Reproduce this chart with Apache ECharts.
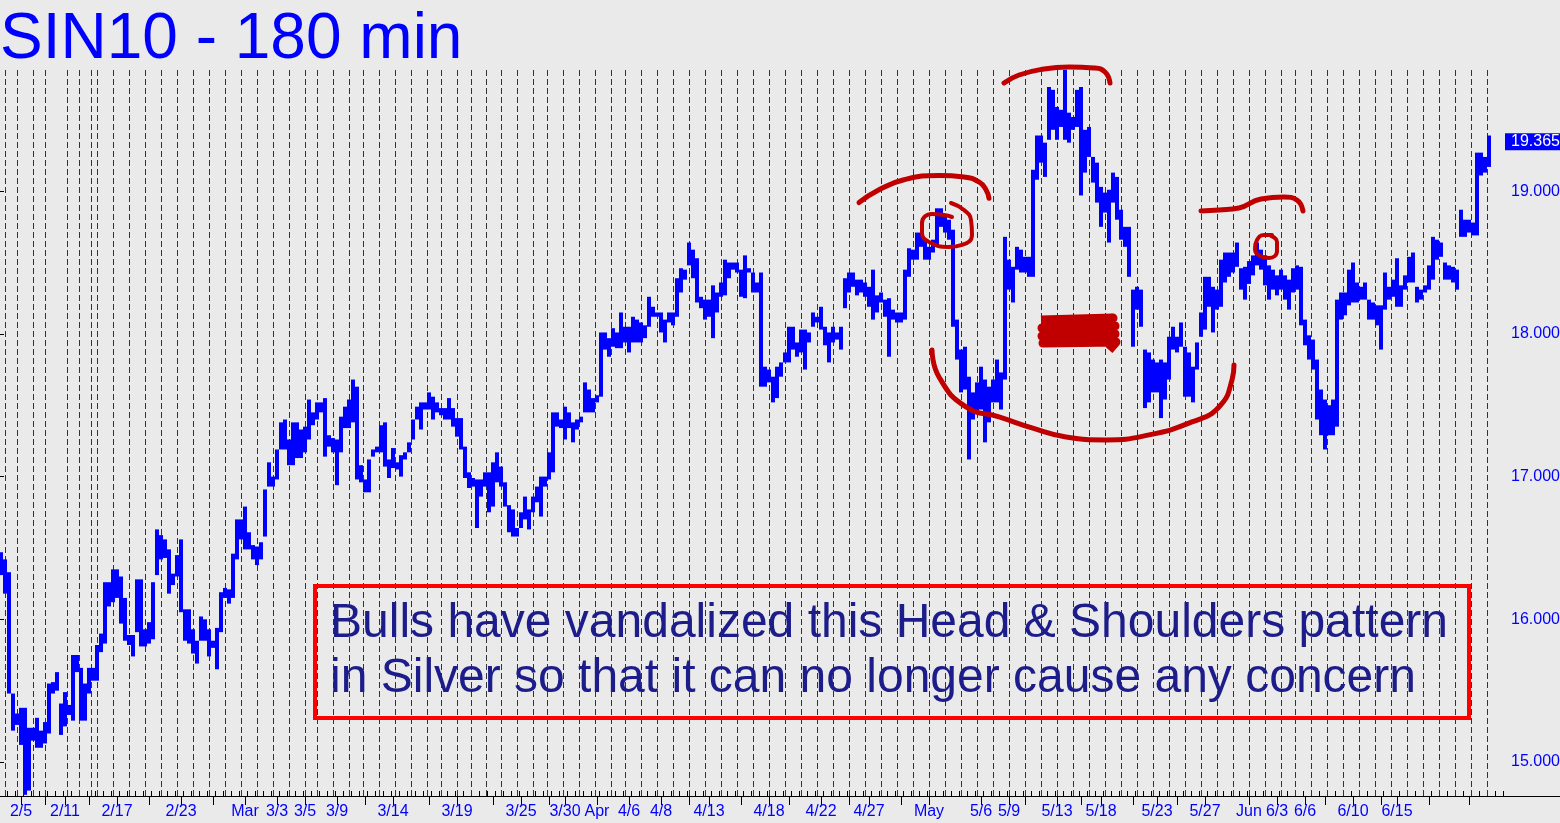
<!DOCTYPE html>
<html><head><meta charset="utf-8">
<script src="https://cdn.jsdelivr.net/npm/echarts/dist/echarts.min.js"></script>
<style>html,body{margin:0;padding:0;background:#eaeaea;}#c{width:1560px;height:823px;}</style>
</head><body><div id="c"></div>
<script>
const chartTitle = 'SIN10 - 180 min';
const lastPrice = 19.365;
const SLOTS = 376;
// each slot = one group of 180-min bars; low / high of the slot
const lows = [
16.31,16.18,15.48,15.22,15.26,15.12,14.77,14.80,15.15,15.10,15.10,15.13,15.20,15.48,15.50,15.19,15.25,15.33,15.29,15.63,
15.29,15.29,15.48,15.57,15.57,15.77,15.83,16.09,16.12,16.15,15.97,15.85,15.82,15.74,15.91,15.81,15.81,15.83,15.86,16.31,
16.42,16.43,16.18,16.24,16.30,16.05,15.85,15.83,15.76,15.69,15.85,15.85,15.74,15.80,15.65,15.91,16.15,16.11,16.15,16.42,
16.56,16.49,16.49,16.42,16.38,16.42,16.58,16.93,16.93,16.98,17.19,17.19,17.08,17.08,17.13,17.13,17.17,17.26,17.36,17.40,
17.45,17.14,17.21,17.17,16.94,17.17,17.34,17.34,17.38,16.98,16.96,16.89,16.89,17.14,17.17,17.17,17.07,16.99,17.06,17.05,
17.00,17.12,17.17,17.26,17.40,17.33,17.47,17.47,17.40,17.45,17.43,17.40,17.40,17.35,17.28,17.19,16.99,16.92,16.93,16.64,
16.86,16.93,16.75,16.79,16.96,16.93,16.79,16.61,16.58,16.58,16.64,16.70,16.63,16.75,16.82,16.72,16.93,16.98,17.03,17.35,
17.34,17.26,17.34,17.24,17.33,17.38,17.45,17.45,17.45,17.52,17.56,17.89,17.84,17.91,17.90,17.90,17.94,17.87,17.94,17.94,
17.94,17.97,18.05,18.12,18.12,18.01,17.94,18.08,18.06,18.12,18.29,18.38,18.48,18.39,18.22,18.18,18.10,18.12,17.97,18.15,
18.26,18.27,18.39,18.45,18.43,18.26,18.25,18.43,18.29,18.29,17.63,17.63,17.66,17.52,17.55,17.70,17.80,17.80,17.89,17.84,
17.87,17.75,17.94,18.05,18.08,18.03,17.92,17.80,17.94,17.96,17.89,18.18,18.29,18.33,18.27,18.29,18.26,18.19,18.10,18.15,
18.22,18.12,17.84,18.10,18.08,18.08,18.10,18.40,18.52,18.52,18.61,18.52,18.52,18.57,18.61,18.75,18.71,18.66,18.05,17.82,
17.59,17.61,17.12,17.40,17.45,17.47,17.24,17.38,17.52,17.52,17.47,17.68,18.31,18.22,18.45,18.43,18.43,18.40,18.40,19.08,
19.20,19.10,19.36,19.43,19.36,19.45,19.36,19.34,19.43,19.45,18.97,19.13,19.24,19.06,18.92,18.75,18.85,18.64,18.92,18.80,
18.66,18.61,18.40,17.91,18.17,18.05,17.48,17.52,17.59,17.59,17.41,17.54,17.68,17.89,17.87,17.91,17.56,17.56,17.52,17.75,
17.98,18.03,18.19,18.01,18.17,18.19,18.36,18.40,18.43,18.47,18.31,18.24,18.35,18.41,18.48,18.45,18.34,18.24,18.31,18.27,
18.31,18.24,18.17,18.29,18.31,18.06,17.92,17.82,17.75,17.40,17.29,17.19,17.29,17.29,17.35,18.10,18.13,18.20,18.22,18.22,
18.24,18.24,18.10,18.10,18.06,17.89,18.17,18.24,18.26,18.19,18.19,18.31,18.36,18.36,18.22,18.24,18.29,18.31,18.38,18.52,
18.54,18.38,18.38,18.36,18.31,18.68,18.68,18.71,18.69,18.69,19.11,19.13,19.17
];
const highs = [
16.47,16.42,16.33,15.48,15.34,15.38,15.38,15.24,15.24,15.31,15.22,15.28,15.55,15.56,15.63,15.41,15.49,15.40,15.75,15.75,
15.66,15.55,15.66,15.66,15.82,15.90,16.26,16.26,16.35,16.35,16.30,16.15,15.89,15.89,16.28,16.28,15.93,15.98,16.26,16.63,
16.59,16.56,16.49,16.32,16.45,16.56,16.07,16.07,15.93,15.85,16.02,16.00,15.93,15.85,15.94,16.19,16.22,16.21,16.46,16.70,
16.70,16.79,16.61,16.52,16.51,16.54,16.91,17.10,17.00,17.19,17.38,17.40,17.26,17.38,17.38,17.33,17.35,17.54,17.45,17.52,
17.52,17.55,17.29,17.27,17.26,17.42,17.49,17.54,17.68,17.63,17.08,16.98,17.12,17.19,17.21,17.36,17.38,17.12,17.20,17.10,
17.15,17.17,17.24,17.40,17.49,17.52,17.52,17.59,17.56,17.52,17.48,17.48,17.55,17.48,17.41,17.41,17.21,17.03,16.99,16.98,
16.98,17.03,17.03,17.10,17.17,17.07,16.96,16.80,16.77,16.64,16.75,16.86,16.77,16.86,16.93,17.00,17.00,17.17,17.45,17.45,
17.40,17.49,17.45,17.38,17.40,17.42,17.66,17.61,17.55,17.57,18.01,18.01,17.97,18.04,18.01,18.15,18.05,18.05,18.12,18.10,
18.08,18.06,18.26,18.19,18.15,18.15,18.10,18.15,18.15,18.39,18.46,18.45,18.64,18.59,18.53,18.26,18.24,18.24,18.34,18.29,
18.36,18.52,18.50,18.50,18.50,18.45,18.55,18.46,18.43,18.36,18.43,17.77,17.75,17.70,17.77,17.80,17.87,18.05,18.05,17.94,
18.03,18.03,18.01,18.15,18.12,18.19,18.05,18.01,18.05,18.01,18.05,18.39,18.43,18.43,18.38,18.38,18.36,18.33,18.45,18.27,
18.29,18.24,18.25,18.17,18.15,18.15,18.45,18.60,18.59,18.71,18.71,18.66,18.61,18.66,18.88,18.88,18.82,18.80,18.73,18.10,
17.89,17.91,17.70,17.59,17.66,17.77,17.68,17.63,17.68,17.82,17.73,18.68,18.52,18.47,18.61,18.59,18.54,18.54,19.15,19.39,
19.39,19.34,19.73,19.71,19.59,19.57,19.85,19.55,19.52,19.71,19.73,19.43,19.45,19.24,19.20,19.03,18.99,19.01,19.13,19.10,
18.87,18.75,18.75,18.31,18.33,18.31,17.89,17.87,17.82,17.80,17.82,17.80,17.98,18.05,17.98,18.08,17.91,17.87,17.77,17.94,
18.15,18.40,18.40,18.33,18.31,18.52,18.57,18.57,18.57,18.64,18.46,18.47,18.51,18.55,18.64,18.59,18.55,18.48,18.45,18.41,
18.45,18.41,18.38,18.46,18.48,18.47,18.10,17.99,17.96,17.82,17.61,17.54,17.50,17.54,18.24,18.29,18.29,18.45,18.50,18.36,
18.33,18.36,18.24,18.22,18.20,18.20,18.43,18.33,18.38,18.53,18.34,18.41,18.54,18.57,18.33,18.31,18.34,18.48,18.68,18.66,
18.64,18.50,18.48,18.47,18.45,18.87,18.80,18.80,18.78,19.27,19.27,19.24,19.39
];
// date labels: [slot, text]
const xLabels = [[5,'2/5'],[16,'2/11'],[29,'2/17'],[45,'2/23'],[61,'Mar'],[69,'3/3'],[76,'3/5'],[84,'3/9'],[98,'3/14'],[114,'3/19'],
[130,'3/25'],[141,'3/30'],[149,'Apr'],[157,'4/6'],[165,'4/8'],[177,'4/13'],[192,'4/18'],[205,'4/22'],[217,'4/27'],[232,'May'],
[245,'5/6'],[252,'5/9'],[264,'5/13'],[275,'5/18'],[289,'5/23'],[301,'5/27'],[312,'Jun'],[319,'6/3'],[326,'6/6'],[338,'6/10'],[349,'6/15']];
const xMajorUnlabeled = [11,22,37,53,91,107,123,137,172,185,197,212,225,256,270,283,294,331,345,357,367];
// day separators, in slot units
const dayBreaks = [1.625,4.625,8.625,11.625,17.125,20.125,23.125,24.625,28.625,32.625,36.625,40.625,44.625,48.625,52.625,56.625,
60.625,64.625,68.625,72.625,76.625,79.625,83.625,87.625,91.125,95.125,99.125,103.125,107.125,110.625,114.625,118.125,121.875,
125.625,129.625,133.625,137.125,141.125,145.125,149.125,153.125,156.625,160.625,164.625,168.625,172.625,176.625,180.625,184.625,
188.625,192.625,196.625,200.625,204.625,208.625,212.625,216.625,220.625,224.625,228.625,232.625,236.625,240.625,244.625,248.625,
252.625,256.625,260.625,264.625,268.625,272.625,276.625,280.625,284.625,288.625,292.625,296.625,300.625,304.625,308.625,312.625,
316.625,320.625,324.125,328.125,332.125,336.125,340.125,344.125,348.125,352.125,356.125,360.125,364.125,368.125,372.125];
const noteLines = ['Bulls have vandalized this Head & Shoulders pattern','in Silver so that it can no longer cause any concern'];
// hand-drawn annotations, [slot, price]
const leftShoulderArc = [[215,18.92],[220,19.01],[226.25,19.08],[235,19.11],[241.25,19.10],[245,19.065],[246.75,19.01],[247.5,18.95]];
const leftShoulderRing = [[238,18.917],[241.25,18.868],[243,18.798],[243.25,18.693],[240.75,18.623],[237.5,18.609],[232.5,18.644],[230.75,18.707],[230.75,18.777],[233.25,18.84],[236.25,18.833],[238.25,18.819]];
const headArc = [[251.25,19.758],[255,19.814],[261.25,19.856],[267.5,19.87],[273.75,19.863],[276.5,19.835],[277.75,19.758]];
const cupArc = [[233.25,17.887],[235,17.698],[241.75,17.488],[250,17.418],[258.25,17.341],[266.75,17.278],[276.75,17.257],[287.5,17.292],[298.25,17.383],[305,17.488],[308.25,17.677],[308.75,17.782]];
const rightShoulderArc = [[300.5,18.861],[305,18.868],[310,18.882],[315.5,18.945],[321.25,18.959],[324.5,18.938],[326,18.861]];
const rightShoulderRing = [[318,18.686],[319.5,18.644],[319.5,18.581],[317.5,18.532],[315.25,18.546],[314,18.595],[314.5,18.658],[316.25,18.693],[318.25,18.693]];
const scribble = [[260.5,18.098],[278.5,18.112],[260.75,18.042],[279,18.056],[260.75,17.986],[279,18.0],[261,17.936],[279.25,17.943],[277.5,17.887]];

const cats = Array.from({length: SLOTS}, (_, i) => String(i));
const labelMap = new Map(xLabels);
const majorSet = new Set(xLabels.map(d => d[0]).concat(xMajorUnlabeled));
const FONT = 'Liberation Sans, Arial, sans-serif';
const RED = '#c00000';

function redLine(data, smooth, width, cap) {
  return {type: 'line', xAxisIndex: 2, yAxisIndex: 0, data: data, smooth: smooth, showSymbol: false, symbol: 'none',
    clip: false, silent: true, z: 20, lineStyle: {color: RED, width: width, cap: cap || 'round', join: 'round'}};
}

const chart = echarts.init(document.getElementById('c'), null, {renderer: 'canvas'});
chart.setOption({
  animation: false,
  backgroundColor: '#eaeaea',
  title: {text: chartTitle, left: 0, top: 8, padding: 0,
    textStyle: {color: '#0000ff', fontSize: 64, fontWeight: 'normal', fontFamily: FONT}},
  grid: {left: -1, right: 57, top: 70, bottom: 27, containLabel: false, outerBoundsMode: 'none'},
  xAxis: [
    {type: 'category', data: cats, position: 'bottom', boundaryGap: true,
      axisLine: {show: true, lineStyle: {color: '#000', width: 1}},
      axisTick: {show: true, inside: true, length: 5, interval: 1, lineStyle: {color: '#000'}},
      axisLabel: {show: false}, splitLine: {show: false}},
    {type: 'category', data: cats, position: 'bottom', boundaryGap: true,
      axisLine: {show: false},
      axisTick: {show: true, alignWithLabel: true, length: 9, interval: (i) => majorSet.has(i), lineStyle: {color: '#000'}},
      axisLabel: {show: true, interval: (i) => labelMap.has(i), formatter: (v, i) => labelMap.get(i) || '',
        color: '#0000ff', fontSize: 16, fontFamily: FONT, margin: 8},
      splitLine: {show: false}},
    {type: 'value', min: 0, max: SLOTS, show: false}
  ],
  yAxis: [{type: 'value', position: 'right', min: 14.762, max: 19.849, scale: true,
    axisLine: {show: true, lineStyle: {color: '#000', width: 1}},
    axisTick: {show: true, length: 5, lineStyle: {color: '#000'}},
    axisLabel: {color: '#0000ff', fontSize: 16, fontFamily: FONT, margin: 8, showMinLabel: false, showMaxLabel: false,
      formatter: (v) => v.toFixed(3)},
    splitLine: {show: false}}],
  graphic: [
    {type: 'line', shape: {x1: 1503, y1: 796.5, x2: 1560, y2: 796.5}, style: {stroke: '#000', lineWidth: 1}, silent: true},
    {type: 'rect', shape: {x: 315, y: 586, width: 1154, height: 132}, style: {fill: 'none', stroke: '#ff0000', lineWidth: 4}, silent: true, z: 100},
    {type: 'text', x: 330, y: 596, style: {text: noteLines.join('\n'), font: '48px "Liberation Sans", Arial, sans-serif', fill: '#1c1c8a', lineHeight: 55}, silent: true, z: 100}
  ],
  series: [
    {type: 'line', xAxisIndex: 2, yAxisIndex: 0, data: [], silent: true, z: 1,
      markLine: {silent: true, symbol: ['none', 'none'], animation: false, label: {show: false},
        lineStyle: {type: [6, 3], color: '#333333', width: 1},
        data: dayBreaks.map(v => ({xAxis: v}))}},
    {type: 'custom', xAxisIndex: 0, yAxisIndex: 0, z: 10, silent: true,
      data: lows.map((lo, i) => [i, lo, highs[i]]),
      encode: {x: 0, y: [1, 2]},
      renderItem: function (params, api) {
        const i = api.value(0);
        const top = api.coord([i, api.value(2)]);
        const bot = api.coord([i, api.value(1)]);
        const w = api.size([1, 0])[0];
        const h = Math.max(2, bot[1] - top[1]);
        return {type: 'rect', shape: {x: top[0] - w / 2, y: top[1], width: w, height: h}, style: {fill: '#0000ff'}};
      }},
    redLine(leftShoulderArc, 0.5, 5),
    redLine(leftShoulderRing, 0.5, 4),
    redLine(headArc, 0.5, 5),
    redLine(cupArc, 0.5, 5),
    redLine(rightShoulderArc, 0.5, 5),
    redLine(rightShoulderRing, 0.5, 4),
    redLine(scribble, false, 9, 'butt'),
    {type: 'line', xAxisIndex: 2, yAxisIndex: 0, data: [], silent: true, z: 30,
      markLine: {silent: true, symbol: ['none', 'none'], animation: false,
        lineStyle: {color: 'rgba(0,0,0,0)', width: 1, opacity: 1},
        label: {show: true, position: 'end', distance: 2, offset: [0, 2], formatter: lastPrice.toFixed(3), color: '#ffffff',
          backgroundColor: '#0000ff', fontSize: 16, fontFamily: FONT, padding: [1, 6, 0, 6]},
        data: [{yAxis: lastPrice}]}}
  ]
});
</script>
</body></html>
